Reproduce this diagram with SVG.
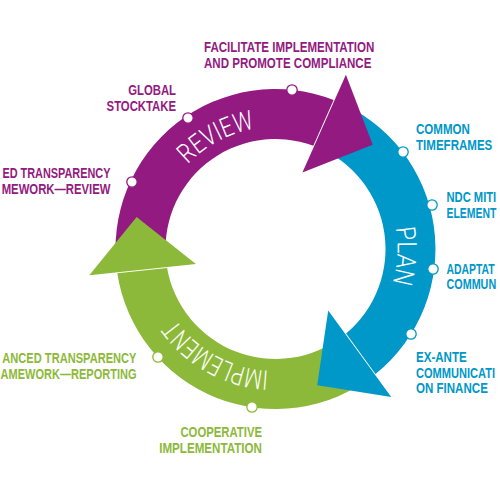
<svg xmlns="http://www.w3.org/2000/svg" width="500" height="500" viewBox="0 0 500 500">
<style>
.pur{fill:#931A80}
.blu{fill:#0097C9}
.grn{fill:#8DB93A}
.lbl{font-family:"Liberation Sans",Arial,sans-serif;font-weight:bold;font-size:14px}
.band{font-family:Roboto,"DejaVu Sans",sans-serif;font-weight:300;font-size:27px;fill:#ffffff}
.dot{fill:#ffffff;stroke-width:1.3}
</style>
<defs>
<path id="ring" d="M153.5,249 A122,122 0 1 1 397.5,249 A122,122 0 1 1 153.5,249"/>
</defs>
<rect width="500" height="500" fill="#ffffff"/>
<g id="connectors">
<g id="shafts">
<path class="pur" d="M117.0,270.7 A160,160 0 0 1 333.6,99.9 L313.3,145.7 A110,110 0 0 0 166.5,263.9 Z"/>
<path class="blu" d="M335.9,100.9 A160,160 0 0 1 375.5,373.9 L346.1,333.4 A110,110 0 0 0 317.1,147.2 Z"/>
<path class="grn" d="M373.6,375.4 A160,160 0 0 1 117.3,273.2 L167.1,267.9 A110,110 0 0 0 342.9,335.9 Z"/>
</g>
<g id="heads">
<polygon class="pur" points="345.9,74.7 372.7,144.8 302.4,172.6"/>
<polygon class="blu" points="391.2,397.1 317.2,385.3 328.2,310.5"/>
<polygon class="grn" points="89.3,275.2 136.6,216.9 195.9,263.9"/>
</g>
</g>
<g id="phase-review"><text class="band"><textPath href="#ring" startOffset="132" text-anchor="middle" textLength="77" lengthAdjust="spacingAndGlyphs">REVIEW</textPath></text></g>
<g id="phase-plan"><text class="band"><textPath href="#ring" startOffset="389.7" text-anchor="middle" textLength="56" lengthAdjust="spacingAndGlyphs">PLAN</textPath></text></g>
<g id="phase-implement"><text class="band"><textPath href="#ring" startOffset="636.7" text-anchor="middle" textLength="110" lengthAdjust="spacingAndGlyphs">IMPLEMENT</textPath></text></g>

<g id="facilitate">
<circle class="dot" cx="292" cy="90" r="5.2" stroke="#931A80"/>
<text class="lbl pur" transform="translate(204,52.3) scale(0.825,1)">FACILITATE IMPLEMENTATION</text>
<text class="lbl pur" transform="translate(204,67.6) scale(0.825,1)">AND PROMOTE COMPLIANCE</text>
</g>
<g id="global-stocktake">
<circle class="dot" cx="188" cy="118" r="5.2" stroke="#931A80"/>
<text class="lbl pur" text-anchor="end" transform="translate(176,95.2) scale(0.81,1)">GLOBAL</text>
<text class="lbl pur" text-anchor="end" transform="translate(176,110.8) scale(0.81,1)">STOCKTAKE</text>
</g>
<g id="etf-review">
<circle class="dot" cx="132" cy="182" r="5.2" stroke="#931A80"/>
<text class="lbl pur" text-anchor="end" transform="translate(110.5,178) scale(0.779,1)">ED TRANSPARENCY</text>
<text class="lbl pur" text-anchor="end" transform="translate(110.5,193.8) scale(0.81,1)">MEWORK—REVIEW</text>
</g>
<g id="common-timeframes">
<circle class="dot" cx="403" cy="152" r="5.2" stroke="#0097C9"/>
<text class="lbl blu" transform="translate(416,133.5) scale(0.825,1)">COMMON</text>
<text class="lbl blu" transform="translate(416,150.3) scale(0.825,1)">TIMEFRAMES</text>
</g>
<g id="ndc-mitigation">
<circle class="dot" cx="432" cy="205" r="5.2" stroke="#0097C9"/>
<text class="lbl blu" transform="translate(446.5,201.5) scale(0.8,1)">NDC MITI</text>
<text class="lbl blu" transform="translate(446.5,217.5) scale(0.745,1)">ELEMENT</text>
</g>
<g id="adaptation">
<circle class="dot" cx="433" cy="269" r="5.2" stroke="#0097C9"/>
<text class="lbl blu" transform="translate(446.5,274) scale(0.745,1)">ADAPTAT</text>
<text class="lbl blu" transform="translate(446.5,289.3) scale(0.77,1)">COMMUN</text>
</g>
<g id="ex-ante">
<circle class="dot" cx="411" cy="334" r="5.2" stroke="#0097C9"/>
<text class="lbl blu" transform="translate(416,361.5) scale(0.825,1)">EX-ANTE</text>
<text class="lbl blu" transform="translate(416,377.5) scale(0.79,1)">COMMUNICATI</text>
<text class="lbl blu" transform="translate(416,393.3) scale(0.825,1)">ON FINANCE</text>
</g>
<g id="cooperative">
<circle class="dot" cx="252" cy="407" r="5.2" stroke="#8DB93A"/>
<text class="lbl grn" text-anchor="end" transform="translate(262,437.3) scale(0.81,1)">COOPERATIVE</text>
<text class="lbl grn" text-anchor="end" transform="translate(262,453.3) scale(0.83,1)">IMPLEMENTATION</text>
</g>
<g id="etf-reporting">
<circle class="dot" cx="158" cy="357" r="5.2" stroke="#8DB93A"/>
<text class="lbl grn" text-anchor="end" transform="translate(136.5,363) scale(0.793,1)">ANCED TRANSPARENCY</text>
<text class="lbl grn" text-anchor="end" transform="translate(136.5,379.2) scale(0.788,1)">AMEWORK—REPORTING</text>
</g>
</svg>
